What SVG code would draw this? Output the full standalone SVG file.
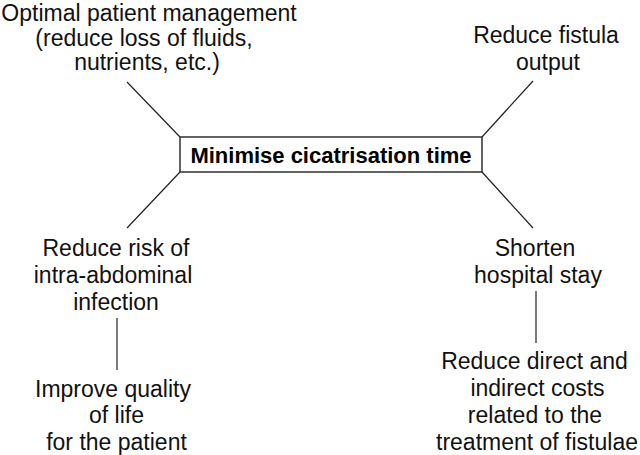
<svg xmlns="http://www.w3.org/2000/svg" width="640" height="455" viewBox="0 0 640 455">
<style>
.t{font-family:"Liberation Sans",Arial,sans-serif;font-size:23px;fill:#111;text-anchor:middle}
.b{font-family:"Liberation Sans",Arial,sans-serif;font-size:22px;font-weight:bold;fill:#000;text-anchor:middle}
.c{stroke:#222;stroke-width:1.2;fill:none}
</style>
<rect width="640" height="455" fill="#fff"/>
<g id="connectors">
<line class="c" x1="127" y1="82" x2="180" y2="137"/>
<line class="c" x1="533" y1="81" x2="482" y2="137"/>
<line class="c" x1="180" y1="172" x2="127" y2="228"/>
<line class="c" x1="482" y1="172" x2="533" y2="228"/>
<line class="c" x1="117" y1="318" x2="117" y2="370"/>
<line class="c" x1="536" y1="291" x2="536" y2="343"/>
</g>
<g id="center">
<rect x="180" y="137" width="302" height="35" fill="#fff" stroke="#222" stroke-width="1.4"/>
<text class="b" x="331" y="162.5">Minimise cicatrisation time</text>
</g>
<g id="patient-management">
<text class="t" x="149" y="21">Optimal patient management</text>
<text class="t" x="144" y="45.5">(reduce loss of fluids,</text>
<text class="t" x="147" y="70">nutrients, etc.)</text>
</g>
<g id="fistula-output">
<text class="t" x="546" y="43">Reduce fistula</text>
<text class="t" x="548" y="70">output</text>
</g>
<g id="infection-risk">
<text class="t" x="116" y="256">Reduce risk of</text>
<text class="t" x="113" y="283">intra-abdominal</text>
<text class="t" x="116" y="310">infection</text>
</g>
<g id="hospital-stay">
<text class="t" x="535" y="256">Shorten</text>
<text class="t" x="538" y="283">hospital stay</text>
</g>
<g id="quality-of-life">
<text class="t" x="113" y="397">Improve quality</text>
<text class="t" x="116.5" y="423">of life</text>
<text class="t" x="116.5" y="450">for the patient</text>
</g>
<g id="costs">
<text class="t" x="534.5" y="369">Reduce direct and</text>
<text class="t" x="537.5" y="396">indirect costs</text>
<text class="t" x="535" y="423">related to the</text>
<text class="t" x="537" y="450">treatment of fistulae</text>
</g>
</svg>
